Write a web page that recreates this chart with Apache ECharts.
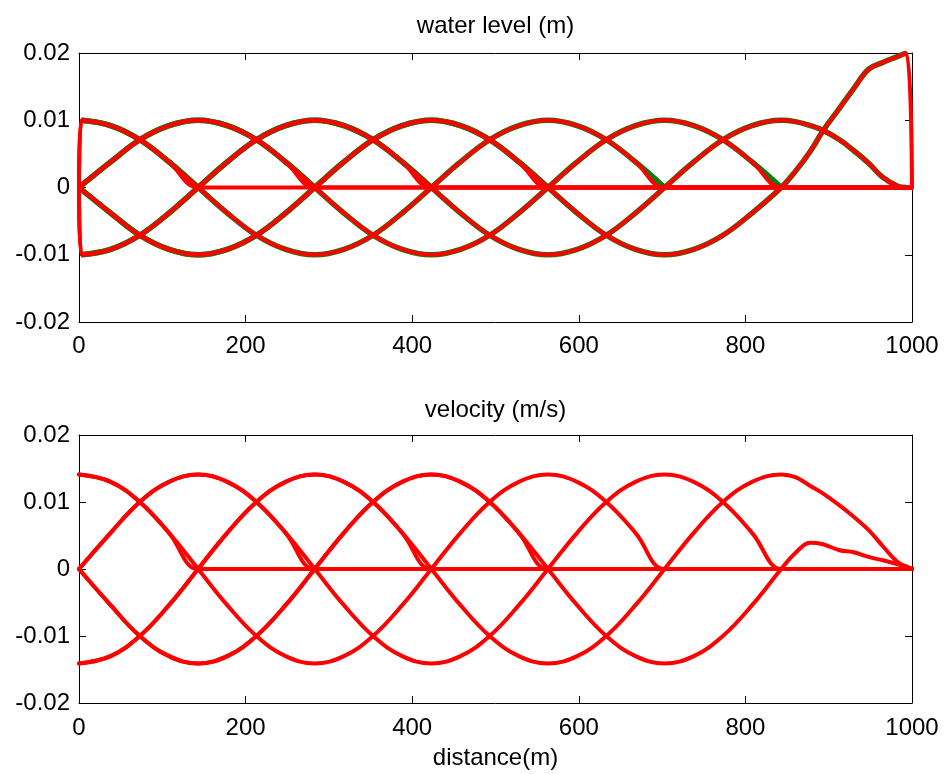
<!DOCTYPE html>
<html><head><meta charset="utf-8">
<script src="https://cdn.jsdelivr.net/npm/echarts@6/dist/echarts.min.js"></script>
<style>html,body{margin:0;padding:0;background:#fff}#c{width:944px;height:774px}</style>
</head><body><div id="c"></div>
<script>
// distance grid (m) for water level and for velocity
const distance = [0, 3, 38, 73, 108, 143, 178, 213, 248, 283, 318, 353, 388, 423, 458, 493, 528, 563, 598, 633, 668, 703, 738, 773, 808, 843, 860, 878, 893, 913, 930, 948, 965, 983, 993, 1000];
const distanceU = [0, 38, 73, 108, 143, 178, 213, 248, 283, 318, 353, 388, 423, 458, 493, 528, 563, 598, 633, 668, 703, 738, 773, 808, 843, 860, 878, 893, 913, 930, 948, 965, 983, 993, 1000];

const xTickLabels = ['0', '200', '400', '600', '800', '1000'];
const yTickLabels = ['-0.02', '-0.01', '0', '0.01', '0.02'];

// water level snapshots (m)
const level1 = [0, 0.01, 0.0092, 0.0071, 0.0038, 0, 0,0,0,0,0, 0,0,0,0,0, 0,0,0,0,0, 0,0,0,0,0, 0,0,0,0,0, 0,0,0,0,0];
const level2 = [0, null, 0.0038, 0.0071, 0.0092, 0.01, 0.0092, 0.0071, 0.0038, 0, 0,0,0,0,0, 0,0,0,0,0, 0,0,0,0,0, 0, 0,0,0,0,0, 0,0,0,0,0];
const level3 = [0, -0.01, -0.0092, -0.0071, -0.0038, 0, 0.0038, 0.0071, 0.0092, 0.01, 0.0092, 0.0071, 0.0038, 0, 0,0,0,0,0, 0,0,0,0,0, 0,0, 0,0,0,0,0, 0,0,0,0,0];
const level4 = [0, null, -0.0038, -0.0071, -0.0092, -0.01, -0.0092, -0.0071, -0.0038, 0, 0.0038, 0.0071, 0.0092, 0.01, 0.0092, 0.0071, 0.0038, 0, 0,0,0,0,0,0,0,0, 0,0,0,0,0, 0,0,0,0,0];
const level5 = [0, 0.01, 0.0092, 0.0071, 0.0038, 0, -0.0038, -0.0071, -0.0092, -0.01, -0.0092, -0.0071, -0.0038, 0, 0.0038, 0.0071, 0.0092, 0.01, 0.0092, 0.0071, 0.0038, 0, 0,0,0,0, 0,0,0,0,0, 0,0,0,0,0];
const level6 = [0, null, 0.0038, 0.0071, 0.0092, 0.01, 0.0092, 0.0071, 0.0038, 0, -0.0038, -0.0071, -0.0092, -0.01, -0.0092, -0.0071, -0.0038, 0, 0.0038, 0.0071, 0.0092, 0.01, 0.0092, 0.0071, 0.0038, 0, 0,0,0,0,0, 0,0,0,0,0];
const level7 = [0, -0.01, -0.0092, -0.0071, -0.0038, 0, 0.0038, 0.0071, 0.0092, 0.01, 0.0092, 0.0071, 0.0038, 0, -0.0038, -0.0071, -0.0092, -0.01, -0.0092, -0.0071, -0.0038, 0, 0.0038, 0.0071, 0.0092, 0.01, 0.0098, 0.0092, 0.0085, 0.0071, 0.0055, 0.0036, 0.0015, 0.0002, 0, 0];
const level8 = [0, null, -0.0038, -0.0071, -0.0092, -0.01, -0.0092, -0.0071, -0.0038, 0, 0.0038, 0.0071, 0.0092, 0.01, 0.0092, 0.0071, 0.0038, 0, -0.0038, -0.0071, -0.0092, -0.01, -0.0092, -0.0071, -0.0038, 0, 0.0024, 0.0054, 0.0084, 0.0118, 0.0147, 0.0176, 0.0186, 0.0195, 0.02, 0];

// velocity snapshots (m/s)
const velocity1 = [0.0141, 0.013, 0.01, 0.0054, 0, 0,0,0,0,0, 0,0,0,0,0, 0,0,0,0,0, 0,0,0,0,0, 0,0,0,0,0, 0,0,0,0,0];
const velocity2 = [0, 0.0054, 0.01, 0.013, 0.0141, 0.013, 0.01, 0.0054, 0, 0,0,0,0,0, 0,0,0,0,0, 0,0,0,0,0, 0, 0,0,0,0,0, 0,0,0,0,0];
const velocity3 = [-0.0141, -0.013, -0.01, -0.0054, 0, 0.0054, 0.01, 0.013, 0.0141, 0.013, 0.01, 0.0054, 0, 0,0,0,0,0, 0,0,0,0,0, 0,0, 0,0,0,0,0, 0,0,0,0,0];
const velocity4 = [0, -0.0054, -0.01, -0.013, -0.0141, -0.013, -0.01, -0.0054, 0, 0.0054, 0.01, 0.013, 0.0141, 0.013, 0.01, 0.0054, 0, 0,0,0,0,0,0,0,0, 0,0,0,0,0, 0,0,0,0,0];
const velocity5 = [0.0141, 0.013, 0.01, 0.0054, 0, -0.0054, -0.01, -0.013, -0.0141, -0.013, -0.01, -0.0054, 0, 0.0054, 0.01, 0.013, 0.0141, 0.013, 0.01, 0.0054, 0, 0,0,0,0, 0,0,0,0,0, 0,0,0,0,0];
const velocity6 = [0, 0.0054, 0.01, 0.013, 0.0141, 0.013, 0.01, 0.0054, 0, -0.0054, -0.01, -0.013, -0.0141, -0.013, -0.01, -0.0054, 0, 0.0054, 0.01, 0.013, 0.0141, 0.013, 0.01, 0.0054, 0, 0,0,0,0,0, 0,0,0,0,0];
const velocity7 = [-0.0141, -0.013, -0.01, -0.0054, 0, 0.0054, 0.01, 0.013, 0.0141, 0.013, 0.01, 0.0054, 0, -0.0054, -0.01, -0.013, -0.0141, -0.013, -0.01, -0.0054, 0, 0.0054, 0.01, 0.013, 0.0141, 0.0137, 0.0124, 0.0113, 0.0095, 0.0078, 0.0058, 0.0034, 0.001, 0.0004, 0];
const velocity8 = [0, -0.0054, -0.01, -0.013, -0.0141, -0.013, -0.01, -0.0054, 0, 0.0054, 0.01, 0.013, 0.0141, 0.013, 0.01, 0.0054, 0, -0.0054, -0.01, -0.013, -0.0141, -0.013, -0.01, -0.0054, 0, 0.0024, 0.0039, 0.0037, 0.0028, 0.0025, 0.0018, 0.0013, 0.0007, 0.0003, 0];

const levels = [level1, level2, level3, level4, level5, level6, level7, level8];
const velocities = [velocity1, velocity2, velocity3, velocity4, velocity5, velocity6, velocity7, velocity8];

const FONT = '"Liberation Sans", Arial, Helvetica, sans-serif';
const RED = '#ff0000';
const GREEN = '#0b7d0b';
const SMOOTH = 0.4;

function pairs(xs, arr) { return xs.map((x, i) => [x, arr[i]]); }
// analytical (green) curve: only where the wave exists (no boundary jump, no flat tail)
function wavePart(xs, arr) {
  let last = 0;
  arr.forEach((v, i) => { if (v !== 0 && v !== null) last = i; });
  const end = Math.min(last + 1, arr.length - 2);
  const jump = arr[0] === 0 && arr[1] !== null && arr[1] !== 0;
  return xs.map((x, i) => [x, ((i === 0 && jump) || i > end) ? null : arr[i]]);
}

function xAxis(grid, pos, labels, margin) {
  return {
    type: 'value', gridIndex: grid, position: pos, min: 0, max: 1000, interval: 200,
    axisLine: { show: true, onZero: false, lineStyle: { color: '#000', width: 1 } },
    axisTick: { show: true, inside: true, length: 7, lineStyle: { color: '#000', width: 1 } },
    axisLabel: { show: labels, margin: margin, color: '#000', fontSize: 24, fontFamily: FONT,
      formatter: v => xTickLabels[Math.round(v / 200)] },
    splitLine: { show: false }
  };
}
function yAxis(grid, pos, labels) {
  return {
    type: 'value', gridIndex: grid, position: pos, min: -0.02, max: 0.02, interval: 0.01,
    axisLine: { show: true, onZero: false, lineStyle: { color: '#000', width: 1 } },
    axisTick: { show: true, inside: true, length: 7, lineStyle: { color: '#000', width: 1 } },
    axisLabel: { show: labels, margin: 9, color: '#000', fontSize: 24, fontFamily: FONT,
      formatter: v => yTickLabels[Math.round(v / 0.01) + 2] },
    splitLine: { show: false }
  };
}

const series = [];
levels.forEach((arr, k) => {
  series.push({ name: 'level analytic ' + (k + 1), type: 'line', xAxisIndex: 0, yAxisIndex: 0,
    data: wavePart(distance, arr), showSymbol: false, symbol: 'none', z: 2, smooth: SMOOTH, connectNulls: true,
    lineStyle: { color: GREEN, width: 5.5, join: 'round', cap: 'butt' } });
});
levels.forEach((arr, k) => {
  series.push({ name: 'level ' + (k + 1), type: 'line', xAxisIndex: 0, yAxisIndex: 0,
    data: pairs(distance, arr), showSymbol: false, symbol: 'none', z: 3, smooth: SMOOTH, connectNulls: true,
    lineStyle: { color: RED, width: 4, join: 'round', cap: 'round' } });
});
velocities.forEach((arr, k) => {
  series.push({ name: 'velocity ' + (k + 1), type: 'line', xAxisIndex: 2, yAxisIndex: 2,
    data: pairs(distanceU, arr), showSymbol: false, symbol: 'none', z: 3, smooth: SMOOTH, connectNulls: true,
    lineStyle: { color: RED, width: 4, join: 'round', cap: 'round' } });
});

const chart = echarts.init(document.getElementById('c'), null, { renderer: 'canvas' });
chart.setOption({
  animation: false,
  backgroundColor: '#fff',
  grid: [
    { left: 79, top: 53, width: 833, height: 269, containLabel: false, outerBoundsMode: 'none' },
    { left: 79, top: 435, width: 833, height: 268, containLabel: false, outerBoundsMode: 'none' }
  ],
  xAxis: [xAxis(0, 'bottom', true, 12), xAxis(0, 'top', false, 8), xAxis(1, 'bottom', true, 13), xAxis(1, 'top', false, 8)],
  yAxis: [yAxis(0, 'left', true), yAxis(0, 'right', false), yAxis(1, 'left', true), yAxis(1, 'right', false)],
  graphic: [
    { type: 'text', x: 495.5, y: 26, style: { text: 'water level (m)', font: '24px ' + FONT, fill: '#000', align: 'center', verticalAlign: 'middle' } },
    { type: 'text', x: 495.5, y: 410, style: { text: 'velocity (m/s)', font: '24px ' + FONT, fill: '#000', align: 'center', verticalAlign: 'middle' } },
    { type: 'text', x: 495.5, y: 758, style: { text: 'distance(m)', font: '24px ' + FONT, fill: '#000', align: 'center', verticalAlign: 'middle' } }
  ],
  series: series
});
</script>
</body></html>
